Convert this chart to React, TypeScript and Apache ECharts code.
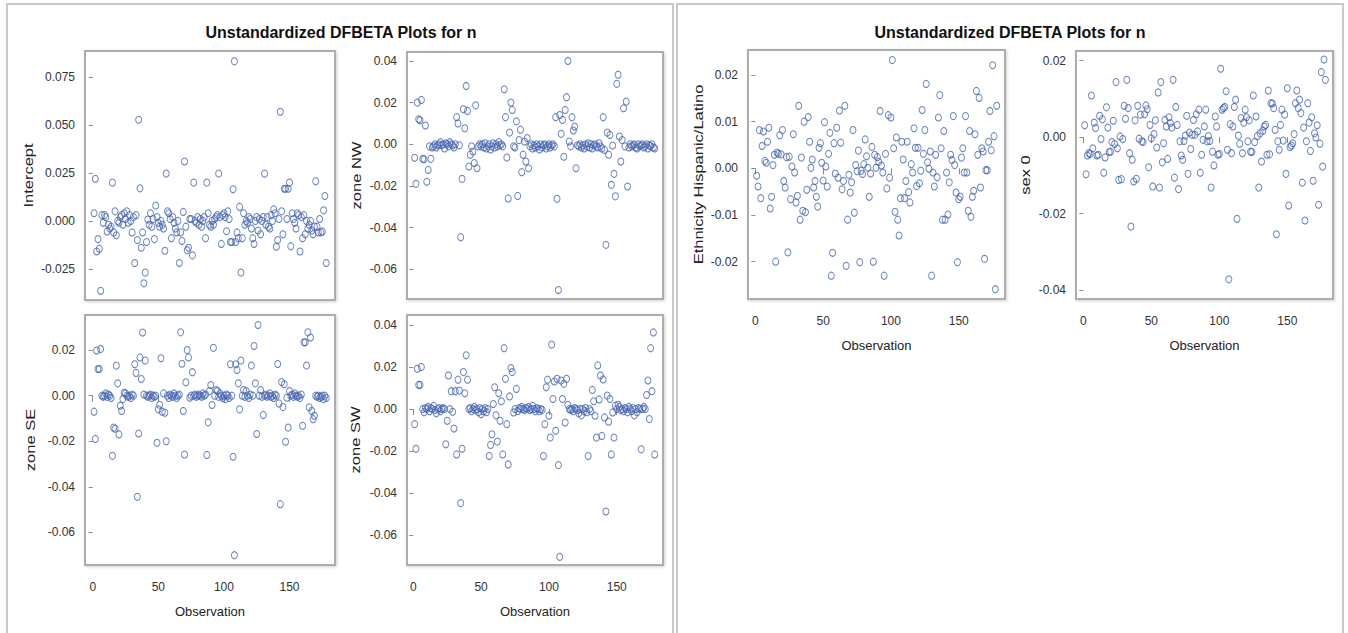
import { useEffect, useRef } from "react";
import * as echarts from "echarts";

const FONT = '"Liberation Sans", Arial, sans-serif';

const observationTicks = [0, 50, 100, 150];

const interceptTicks = [-0.025, 0, 0.025, 0.05, 0.075];
const zoneNWTicks = [-0.06, -0.04, -0.02, 0, 0.02, 0.04];
const zoneSETicks = [-0.06, -0.04, -0.02, 0, 0.02];
const zoneSWTicks = [-0.06, -0.04, -0.02, 0, 0.02, 0.04];
const ethnicityTicks = [-0.02, -0.01, 0, 0.01, 0.02];
const sexTicks = [-0.04, -0.02, 0, 0.02];

const interceptDfbeta = [
  0.004, 0.022, -0.016, -0.0095, -0.0145, -0.0365, 0.003, -0.001, 0.003, 0.002,
  -0.0055, -0.002, -0.004, -0.003, 0.02, -0.006, 0.005, -0.0075, 0.0, -0.001,
  0.002, 0.003, -0.002, 0.004, 0.001, 0.005, -0.001, 0.003, 0.0, -0.006,
  0.002, -0.022, 0.003, -0.01, 0.0528, 0.017, -0.014, -0.006, -0.0326, -0.027,
  -0.011, 0.0007, -0.002, 0.004, -0.003, 0.001, -0.0095, 0.008, 0.002, -0.001,
  -0.003, 0.0, -0.002, -0.004, -0.0156, 0.0247, 0.005, 0.004, 0.001, -0.009,
  0.002, -0.001, -0.004, -0.006, 0.0, -0.022, -0.006, -0.0105, 0.0047, 0.031,
  -0.003, -0.0153, -0.014, 0.001, 0.001, -0.018, 0.02, 0.0, -0.001, 0.002,
  -0.002, 0.001, -0.003, 0.0, 0.002, -0.009, 0.02, 0.004, -0.002, -0.003,
  0.0, -0.002, 0.001, 0.002, 0.003, 0.0247, 0.002, -0.012, 0.003, 0.004,
  0.002, -0.0054, 0.005, 0.001, -0.011, -0.011, 0.0165, 0.0833, -0.011, -0.006,
  -0.009, 0.0073, -0.027, -0.009, 0.004, -0.002, 0.0, -0.001, 0.002, 0.001,
  -0.004, -0.009, -0.012, 0.0, 0.002, -0.005, 0.001, -0.007, 0.0, 0.002,
  0.0247, -0.002, 0.002, -0.003, -0.004, 0.003, 0.0, 0.006, 0.004, -0.0135,
  -0.01, 0.001, 0.057, 0.005, -0.007, 0.0168, 0.0168, 0.001, 0.0168, 0.02,
  -0.0132, 0.004, 0.001, -0.001, -0.004, 0.004, 0.003, -0.016, 0.002, -0.009,
  0.003, -0.007, 0.0, -0.004, -0.002, 0.0, -0.005, -0.007, -0.003, 0.0207,
  -0.003, -0.006, 0.001, -0.006, -0.0055, 0.0055, 0.013, -0.022,
];

const zoneNWDfbeta = [
  -0.0065, -0.019, 0.02, 0.012, 0.0115, 0.0213, -0.007, -0.0072, 0.009, -0.018,
  -0.0123, -0.001, -0.007, -0.0015, -0.001, 0.0, -0.0015, -0.0005, 0.0, 0.001,
  -0.0005, 0.0, -0.002, 0.0005, 0.0, -0.001, 0.001, 0.0, -0.0005, -0.0015,
  0.0, 0.013, 0.01, -0.0005, -0.0446, -0.0166, 0.0168, 0.0077, 0.028, 0.016,
  -0.0107, -0.005, -0.001, -0.0035, -0.009, 0.0187, -0.0115, -0.001, 0.0, -0.001,
  0.0, -0.0015, 0.0005, -0.002, -0.001, 0.0, -0.0025, -0.001, 0.0005, -0.0015,
  0.0, -0.001, 0.001, -0.0005, 0.0, -0.001, 0.0264, 0.013, -0.0064, -0.026,
  0.0056, 0.02, 0.0165, -0.001, -0.0015, 0.011, -0.0248, 0.002, 0.007, -0.0134,
  -0.005, 0.0013, -0.0083, 0.003, -0.0115, -0.001, 0.0, -0.002, -0.0005, -0.0015,
  0.0, -0.001, -0.0025, 0.0, -0.0015, -0.0005, 0.0, -0.002, -0.001, 0.0,
  -0.0015, -0.0005, 0.0, -0.001, 0.013, -0.0262, -0.07, 0.014, 0.005, 0.0117,
  -0.006, 0.0165, 0.0226, 0.04, 0.0013, -0.001, 0.013, 0.0066, 0.0085, -0.0115,
  -0.0005, -0.001, 0.0, -0.0015, -0.0005, -0.002, 0.0, -0.001, 0.0005, -0.0015,
  0.0, -0.002, -0.0005, 0.0, -0.001, -0.0015, 0.0005, -0.001, -0.002, 0.013,
  -0.0027, -0.0483, 0.0056, -0.005, 0.0045, -0.0195, -0.0006, -0.0142, -0.025, 0.029,
  0.0334, 0.0037, -0.0083, 0.002, 0.0173, -0.001, 0.0205, -0.0203, -0.0015, 0.0,
  -0.001, -0.0005, 0.0, -0.0015, -0.002, 0.0, -0.001, -0.0005, 0.0, -0.0015,
  -0.001, 0.0, -0.002, -0.0005, -0.001, 0.0, -0.0015, -0.002,
];

const zoneSEDfbeta = [
  -0.007, -0.019, 0.0198, 0.0117, 0.0117, 0.0205, 0.0, -0.0005, 0.0, 0.001,
  -0.0005, 0.0005, 0.0, -0.001, -0.0264, -0.014, -0.0145, 0.0132, 0.0054, -0.017,
  -0.0044, -0.0067, -0.0015, 0.0013, 0.001, 0.0, -0.0005, 0.0, -0.001, 0.0005,
  0.0, 0.0138, 0.01, -0.0444, -0.0166, 0.0168, 0.0073, 0.0277, 0.0005, 0.0154,
  0.0, -0.0005, 0.0, 0.0005, -0.001, 0.0, -0.0005, 0.0, -0.0207, -0.006,
  -0.004, 0.0164, -0.007, 0.001, -0.0075, -0.02, 0.0, -0.001, 0.0005, 0.0,
  -0.0005, 0.001, 0.0, -0.001, 0.0, 0.0005, 0.0278, 0.014, -0.0067, -0.0258,
  0.0059, 0.02, 0.0168, -0.0009, 0.0, 0.0103, 0.0, 0.0005, -0.0005, 0.0,
  0.0005, 0.0, -0.0005, 0.001, 0.0, 0.0005, -0.026, -0.0117, 0.002, 0.0047,
  -0.0041, 0.021, 0.0, 0.0025, 0.002, -0.0005, 0.001, 0.0, -0.001, 0.0,
  -0.0015, 0.0005, 0.0, -0.001, 0.0138, 0.0, -0.0268, -0.07, 0.0138, 0.0113,
  0.0054, -0.006, 0.0154, 0.0, 0.0025, -0.0005, 0.002, 0.0, -0.001, 0.0005,
  0.0132, 0.0, 0.0218, 0.0054, -0.0168, 0.031, 0.0, 0.0025, -0.0005, -0.0085,
  0.0, 0.0005, -0.0005, 0.0, 0.001, -0.0005, 0.0, -0.001, 0.0005, 0.0,
  0.0139, -0.0034, -0.0476, 0.006, -0.005, 0.005, -0.0202, -0.0009, -0.014, 0.002,
  0.0, 0.0005, -0.0005, 0.001, 0.0, -0.0005, 0.0, -0.001, 0.0005, -0.0132,
  0.0234, 0.0234, 0.0132, 0.0278, -0.0051, 0.0255, -0.0067, -0.0103, -0.0088, 0.0,
  -0.0005, 0.0, -0.001, -0.0005, 0.0, -0.0015, 0.0, -0.001,
];

const zoneSWDfbeta = [
  -0.0072, -0.0189, 0.0192, 0.0115, 0.0115, 0.02, 0.0, -0.0015, 0.0005, 0.0,
  0.001, -0.001, 0.0005, 0.0, 0.0015, -0.0005, -0.002, 0.0, 0.0005, -0.001,
  0.0, 0.0005, 0.0, -0.0168, -0.0056, 0.016, 0.0, 0.0085, -0.0013, -0.0093,
  0.0085, -0.0216, 0.014, 0.0088, -0.0448, -0.0189, 0.0176, 0.0075, 0.0256, 0.014,
  0.0, 0.0005, -0.001, 0.0, 0.001, -0.0005, 0.0, -0.0015, 0.0005, -0.0025,
  0.0, -0.001, 0.0005, -0.0015, 0.0, -0.0224, -0.0171, -0.012, 0.0024, 0.0104,
  -0.003, -0.0155, 0.0075, -0.0056, 0.0037, -0.0216, 0.029, 0.0144, -0.0072, -0.0264,
  0.006, 0.0195, 0.0176, -0.0016, 0.0, 0.0096, -0.001, 0.0005, 0.0, 0.001,
  0.0, -0.0005, 0.0005, 0.0, 0.001, -0.0005, 0.0, 0.0015, 0.0, -0.001,
  0.0005, 0.0, -0.001, 0.0, -0.0005, -0.0224, -0.0072, 0.0104, 0.014, -0.0032,
  -0.0136, 0.0307, 0.0048, 0.0131, -0.0104, 0.0144, -0.0267, -0.0704, 0.0136, 0.0048,
  0.012, -0.0064, 0.0144, 0.002, 0.0, -0.0005, 0.0, -0.001, 0.0005, 0.0,
  -0.0005, -0.002, 0.0, -0.003, 0.0, -0.001, 0.0005, -0.0015, -0.0224, 0.0,
  -0.001, 0.0091, 0.0037, -0.0032, -0.0136, 0.0208, 0.0046, 0.016, -0.0128, 0.0141,
  -0.004, -0.0488, 0.0064, -0.006, 0.0048, -0.0216, -0.0016, -0.0136, 0.0016, 0.0,
  0.002, 0.001, -0.0005, 0.0, -0.001, 0.0005, 0.0, -0.0015, 0.001, 0.0,
  -0.001, 0.0005, -0.003, 0.0, -0.0015, 0.0005, 0.0, -0.0192, 0.0, 0.001,
  0.0, 0.0067, 0.0136, -0.0048, 0.029, 0.0085, 0.0365, -0.0216,
];

const ethnicityDfbeta = [
  -0.0016, -0.0039, 0.0082, -0.0064, 0.0048, 0.0079, 0.0016, 0.0012, 0.0057, 0.0087,
  -0.0086, -0.0061, 0.0007, 0.0029, -0.02, 0.0034, 0.0031, 0.0071, 0.003, 0.0082,
  -0.0027, -0.0041, 0.0024, -0.018, 0.0025, -0.0066, 0.0004, 0.0073, -0.0009, -0.0073,
  -0.0059, 0.0134, -0.011, 0.0023, -0.0091, 0.01, -0.0094, -0.0046, 0.011, 0.0057,
  0.0001, 0.0019, -0.0041, -0.0027, -0.0061, -0.0082, 0.0044, 0.0054, 0.0012, -0.0026,
  0.0099, 0.0004, -0.0039, 0.0031, 0.0076, -0.023, -0.0181, 0.0054, -0.0011, 0.0087,
  -0.002, 0.0124, 0.0055, -0.0045, -0.0027, 0.0134, -0.0209, -0.011, -0.0014, -0.0052,
  -0.003, 0.0082, -0.0095, 0.0007, -0.0006, 0.0038, -0.0201, -0.0005, -0.0012, 0.0009,
  0.0062, 0.0026, 0.0001, -0.0061, -0.0011, 0.0046, -0.02, 0.0029, 0.0001, 0.0024,
  0.0014, 0.0123, 0.0006, -0.0009, -0.023, 0.0031, -0.0043, 0.0114, -0.002,
  0.0109, 0.0232, 0.0043, -0.0093, 0.0066, -0.011, -0.0144, -0.0064, 0.0057, 0.0019,
  -0.0064, -0.0027, 0.0057, -0.0051, -0.0073, 0.0009, -0.0009, 0.0086, 0.0044, -0.0038,
  0.0044, -0.0032, -0.0005, 0.0125, 0.0031, 0.0082, 0.0181, 0.0013, -0.0001, 0.0036,
  -0.023, -0.0009, -0.0039, 0.0029, -0.0019, 0.0109, 0.0157, 0.0043, -0.011, 0.008,
  -0.011, -0.0009, -0.0099, -0.003, 0.0029, 0.0018, 0.0112, 0.0007, -0.0052, -0.0201,
  -0.0066, -0.0061, 0.0023, 0.0043, -0.0009, 0.0112, -0.0009, -0.0091, 0.008,
  -0.0104, -0.0061, -0.0048, 0.0073, 0.0166, 0.0029, 0.0151, -0.0041, 0.0043, 0.0036,
  -0.0194, -0.0004, -0.0004, 0.0057, 0.0123, 0.0039, 0.0221, 0.0069, -0.0259, 0.0134,
];

const sexDfbeta = [
  0.0031, -0.0097, -0.0048, -0.0042, -0.0044, 0.0109, -0.0029, 0.0038, 0.0024, -0.0048,
  -0.0046, 0.0056, -0.0005, 0.0047, -0.0093, -0.0053, 0.0078, 0.0025, -0.0039, -0.0038,
  -0.0013, 0.0043, -0.0018, 0.0144, -0.0029, -0.0112, 0.0002, -0.011, -0.0005, 0.0082,
  0.0048, 0.015, 0.0076, -0.0042, -0.0234, -0.0059, -0.0116, 0.0044, -0.0109, 0.0082,
  -0.0004, 0.0059, -0.0011, -0.0013, 0.006, 0.0083, 0.0073, -0.0079, 0.0032, -0.0003,
  -0.0129, 0.0008, 0.0044, -0.0027, 0.0117, -0.0132, 0.0144, -0.0066, -0.0016, 0.0045,
  0.0028, -0.0057, 0.0052, 0.0037, 0.0025, 0.015, -0.0106, 0.0079, 0.0032, -0.0136,
  -0.0011, -0.0048, -0.0059, -0.001, 0.0004, 0.0056, -0.0096, 0.0012, -0.0031, 0.0006,
  0.0045, 0.0006, 0.006, 0.0015, 0.0072, -0.0093, -0.0046, -0.0007, 0.0028,
  0.0072, -0.0011, 0.0003, -0.001, -0.0132, -0.0038, -0.0074, 0.0054, 0.0028, -0.0046,
  -0.0044, 0.0179, 0.0072, 0.0076, 0.0079, 0.012, -0.0033, -0.0372, 0.0034,
  -0.0042, 0.0028, 0.0079, 0.0098, -0.0214, 0.0004, -0.0017, 0.005, -0.0042, 0.0038,
  0.0072, 0.0052, -0.0011, 0.0044, -0.0038, -0.0039, 0.0109, -0.0013, 0.0054, 0.0003,
  -0.0132, 0.001, -0.0064, 0.0017, 0.0028, 0.0032, -0.0046, 0.0122, -0.0045, 0.0089,
  0.0088, 0.0076, 0.0019, -0.0254, -0.0011, -0.0033, 0.0032, 0.0072, -0.0009, 0.0059,
  -0.0096, 0.0128, -0.0179, -0.0026, -0.0022, -0.0016, 0.0008, 0.0089, 0.0122, 0.0076,
  0.0098, 0.0063, -0.0119, 0.0025, -0.0218, -0.0011, 0.0089, 0.0038, -0.0036, 0.0052,
  -0.0114, 0.001, -0.0001, 0.0031, -0.0177, -0.0017, 0.017, -0.0077, 0.0203, 0.015,
];

const TITLE = "Unstandardized DFBETA Plots for n";

type Panel = {
  data: number[];
  name: string;
  ticks: number[];
  dec: number;
  grid: { left: number; top: number; width: number; height: number };
  xr: [number, number];
  yr: [number, number];
  showX: boolean;
  nameX: number;
};

const panels: Panel[] = [
  { data: interceptDfbeta, name: "Intercept", ticks: interceptTicks, dec: 3,
    grid: { left: 85, top: 51, width: 250, height: 249 }, xr: [-5.9, 184.7], yr: [-0.0413, 0.0887], showX: false, nameX: 28.7 },
  { data: zoneNWDfbeta, name: "zone NW", ticks: zoneNWTicks, dec: 2,
    grid: { left: 407, top: 52, width: 256, height: 247 }, xr: [-4.6, 184.1], yr: [-0.0743, 0.0443], showX: false, nameX: 356.7 },
  { data: zoneSEDfbeta, name: "zone SE", ticks: zoneSETicks, dec: 2,
    grid: { left: 85, top: 315, width: 250, height: 250 }, xr: [-5.9, 184.7], yr: [-0.0743, 0.0354], showX: true, nameX: 31 },
  { data: zoneSWDfbeta, name: "zone SW", ticks: zoneSWTicks, dec: 2,
    grid: { left: 407, top: 315, width: 256, height: 250 }, xr: [-4.6, 184.1], yr: [-0.0743, 0.0448], showX: true, nameX: 355.7 },
  { data: ethnicityDfbeta, name: "Ethnicity Hispanic/Latino", ticks: ethnicityTicks, dec: 2,
    grid: { left: 748, top: 50, width: 257, height: 249 }, xr: [-5.4, 184.1], yr: [-0.028, 0.02536], showX: true, nameX: 698.7 },
  { data: sexDfbeta, name: "sex 0", ticks: sexTicks, dec: 2,
    grid: { left: 1076, top: 51, width: 257, height: 248 }, xr: [-5.4, 183.6], yr: [-0.04235, 0.02254], showX: true, nameX: 1025.7 },
];

export default function App() {
  const ref = useRef<HTMLDivElement>(null);
  useEffect(() => {
    if (!ref.current) return;
    const chart = echarts.init(ref.current, null, { renderer: "svg" });
    const grids = panels.map((p) => ({
      ...p.grid,
      show: true,
      backgroundColor: "#ffffff",
      borderColor: "#adadad",
      borderWidth: 2,
      shadowColor: "rgba(0,0,0,0.18)",
      shadowBlur: 3,
      shadowOffsetX: 1,
      shadowOffsetY: 1,
      containLabel: false,
    }));
    const xAxes = panels.map((p, i) => ({
      type: "value",
      gridIndex: i,
      min: p.xr[0],
      max: p.xr[1],
      offset: 2,
      axisLine: { show: false },
      splitLine: { show: false },
      axisTick: { show: p.showX, customValues: observationTicks, length: 6, lineStyle: { color: "#8a8a8a", width: 1 } },
      axisLabel: { show: p.showX, customValues: observationTicks, margin: 14, fontSize: 12, color: "#333", fontFamily: FONT },
      name: p.showX ? "Observation" : "",
      nameLocation: "middle",
      nameGap: 38,
      nameTextStyle: { fontSize: 13, color: "#222", fontFamily: FONT },
    }));
    const yAxes = panels.map((p, i) => ({
      type: "value",
      gridIndex: i,
      min: p.yr[0],
      max: p.yr[1],
      offset: 2,
      axisLine: { show: false },
      splitLine: { show: false },
      axisTick: { show: true, customValues: p.ticks, length: 4, lineStyle: { color: "#8a8a8a", width: 1 } },
      axisLabel: {
        customValues: p.ticks,
        margin: 8,
        fontSize: 12,
        color: "#333",
        fontFamily: FONT,
        formatter: (v: number) => (Math.abs(v) < 1e-12 ? 0 : v).toFixed(p.dec),
      },
    }));
    const series = panels.map((p, i) => ({
      type: "scatter",
      xAxisIndex: i,
      yAxisIndex: i,
      data: p.data.map((v, k) => [k + 1, v]),
      symbol: "circle",
      symbolSize: [6, 7],
      itemStyle: { color: "rgba(255,255,255,0)", borderColor: "#4464b2", borderWidth: 1 },
      emphasis: { disabled: true },
      silent: true,
    }));
    const graphic: any[] = [
      { type: "rect", silent: true, z: -10, shape: { x: 7, y: 4, width: 666, height: 660 }, style: { fill: "none", stroke: "#c8c8c8", lineWidth: 2 } },
      { type: "rect", silent: true, z: -10, shape: { x: 677, y: 4, width: 666, height: 660 }, style: { fill: "none", stroke: "#c8c8c8", lineWidth: 2 } },
      { type: "text", silent: true, x: 341, y: 32, style: { text: TITLE, fontSize: 16, fontWeight: "bold", fontFamily: FONT, fill: "#111", align: "center", verticalAlign: "middle", textAlign: "center", textVerticalAlign: "middle" } },
      { type: "text", silent: true, x: 1010, y: 32, style: { text: TITLE, fontSize: 16, fontWeight: "bold", fontFamily: FONT, fill: "#111", align: "center", verticalAlign: "middle", textAlign: "center", textVerticalAlign: "middle" } },
      ...panels.map((p) => ({
        type: "text",
        silent: true,
        x: p.nameX,
        y: p.grid.top + p.grid.height / 2,
        rotation: Math.PI / 2,
        scaleX: 1.27,
        style: { text: p.name, fontSize: 13, fontFamily: FONT, fill: "#222", align: "center", verticalAlign: "middle", textAlign: "center", textVerticalAlign: "middle" },
      })),
    ];
    chart.setOption({
      animation: false,
      backgroundColor: "#ffffff",
      textStyle: { fontFamily: FONT },
      grid: grids,
      xAxis: xAxes,
      yAxis: yAxes,
      series,
      graphic,
    } as any);
    return () => chart.dispose();
  }, []);
  return (
    <div
      ref={ref}
      style={{ position: "fixed", left: 0, top: 0, width: 1348, height: 633, background: "#fff" }}
    />
  );
}
